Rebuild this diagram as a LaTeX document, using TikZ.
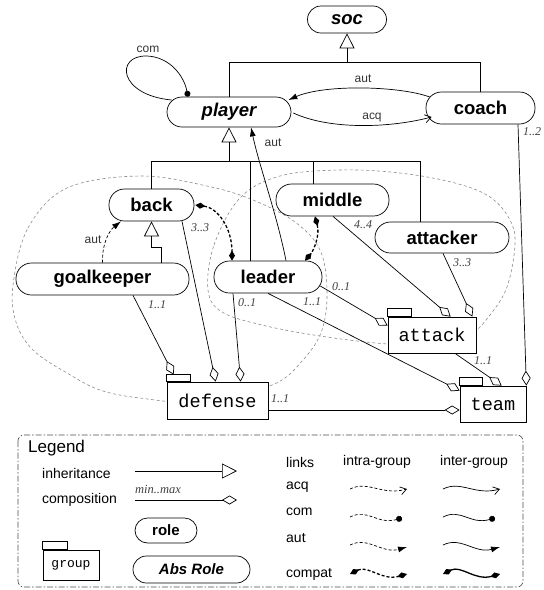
\documentclass[tikz,border=0pt]{standalone}
\usepackage{fontspec}
\setmainfont{Liberation Sans}
\setmonofont{Liberation Mono}
\newfontfamily\multfont{Liberation Serif}
\usetikzlibrary{arrows.meta,calc}
\newcommand\fsz[1]{\fontsize{#1}{#1}\selectfont}
\tikzset{
  role/.style={draw, fill=white, rounded corners=15.5pt, inner sep=0pt, minimum height=32pt,
               line width=0.7pt, font=\fsz{18.5}\bfseries},
  absrole/.style={role, font=\fsz{18.5}\bfseries\itshape},
  grp/.style={draw, fill=white, inner sep=0pt, line width=0.7pt, font=\fsz{18.6}\ttfamily},
  lnk/.style={line width=0.7pt},
  inh/.style={lnk, -{Triangle[open,length=15pt,width=15pt]}},
  comp/.style={lnk, -{Diamond[open,length=15pt,width=9pt]}},
  mult/.style={font=\fsz{12}\multfont\itshape, text=black!75, inner sep=0pt},
  lbl/.style={font=\fsz{12}, inner sep=0pt, text=black!80},
  intra/.style={dash pattern=on 3pt off 2pt},
  autl/.style={lnk, -{Latex[length=9pt,width=6pt]}},
  acql/.style={lnk, -{Straight Barb[length=6pt,width=8pt]}},
  coml/.style={lnk, -{Circle[length=6pt]}},
  compatl/.style={line width=1.3pt, {Diamond[length=10pt,width=6pt]}-{Diamond[length=10pt,width=6pt]}},
  groupzone/.style={draw=black!45, dash pattern=on 3pt off 2.5pt, line width=0.6pt},
  legtext/.style={font=\fsz{14}, anchor=west, inner sep=0pt},
  wavy/.style={to path={.. controls ($(\tikztostart)+(18,-9)$) and ($(\tikztotarget)+(-25,7)$) .. (\tikztotarget)}},
}
\begin{document}
\begin{tikzpicture}[x=1pt,y=-1pt]
\useasboundingbox (0,0) rectangle (544,590);

% group zones (behind everything)
\draw[groupzone] plot[smooth cycle, tension=0.6] coordinates {
  (13,285) (28,228) (67,188) (140,176) (207,186) (253,200) (295,222) (320,250)
  (327,290) (322,330) (303,360) (272,385) (200,402) (140,398) (100,390) (67,373) (33,350) (16,322)};
\draw[groupzone] plot[smooth cycle, tension=0.6] coordinates {
  (208,290) (214,245) (240,198) (280,176) (340,170) (400,173) (455,183) (490,197)
  (510,220) (515,245) (507,287) (490,315) (470,335) (440,344) (388,344) (320,336) (262,325) (222,312)};

% roles
\node[absrole, minimum width=79pt, minimum height=27pt, rounded corners=13.5pt] (soc) at (347,19.5) {soc};
\node[absrole, minimum width=124pt, minimum height=30pt, rounded corners=15pt] (player) at (229,112) {player};
\node[role, minimum width=109pt] (coach) at (480.5,108) {coach};
\node[role, minimum width=85pt] (back) at (151.5,205) {back};
\node[role, minimum width=173pt] (goalkeeper) at (102.5,279) {goalkeeper};
\node[role, minimum width=108pt] (leader) at (268,277) {leader};
\node[role, minimum width=113pt] (middle) at (332.5,200) {middle};
\node[role, minimum width=134pt, minimum height=31pt] (attacker) at (442,237.5) {attacker};

% groups
\node[grp, minimum width=101pt, minimum height=37pt] (defense) at (217.5,400.5) {defense};
\draw[lnk, fill=white] (defense.north west) rectangle ++(24,-7);
\node[grp, minimum width=88pt, minimum height=36pt] (attack) at (432,335) {attack};
\draw[lnk, fill=white] (attack.north west) rectangle ++(24,-8);
\node[grp, minimum width=66pt, minimum height=36pt] (team) at (493,404) {team};
\draw[lnk, fill=white] (team.north west) rectangle ++(23,-8);

% inheritance
\coordinate (jsoc) at (347,62);
\draw[lnk] (player.north) |- (jsoc);
\draw[lnk] (coach.north) |- (jsoc);
\draw[inh] (jsoc) -- (soc.south);
\coordinate (jplayer) at (229,161);
\coordinate (ldtop) at ($(leader.north)+(-18,0)$);
\coordinate (mdtop) at ($(middle.north)+(-19.5,0)$);
\coordinate (attop) at ($(attacker.north)+(-22,0)$);
\draw[lnk] (back.north) |- (attop |- jplayer) -- (attop);
\draw[lnk] (ldtop) -- (ldtop |- jplayer);
\draw[lnk] (mdtop) -- (mdtop |- jplayer);
\draw[inh] (jplayer) -- (player.south);
\coordinate (gktop) at ($(goalkeeper.north)+(58.5,0)$);
\draw[inh] (gktop) -- ++(0,-15) -| (back.south);

% links between roles
\draw[autl] ($(coach.west)+(4,-11)$) .. controls (400,86) and (325,84) .. ($(player.east)+(-3,-12)$);
\node[lbl] (autcp) at (363,79) {aut};
\draw[acql] ($(player.east)+(2,1)$) .. controls (330,130) and (390,128) .. ($(coach.west)+(6,9)$);
\node[lbl] (acqpc) at (372,118) {acq};
\draw[coml] ($(player.west)+(5,-12)$) .. controls (118,95) and (115,55) .. (147,56)
  .. controls (170,57) and (184,76) .. ($(player.north)+(-41,0)$);
\node[lbl] (compp) at (148,49) {com};
\draw[autl] ($(leader.north)+(18,0)$) .. controls (277,215) and (259,165) .. ($(player.south)+(22,0)$);
\node[lbl] (autlp) at (273,143) {aut};
\draw[autl, intra] (goalkeeper.north) .. controls (102,242) and (110,230) .. ($(back.south)+(-30.5,0)$);
\node[lbl] (autgb) at (93,240) {aut};
\draw[compatl, intra] ($(back.east)+(1,0)$) .. controls (218,208) and (232,228) .. ($(leader.north)+(-36,0)$);
\draw[compatl, intra] ($(middle.south)+(-17.5,0)$) .. controls (320,235) and (314,250) .. ($(leader.north)+(37,0)$);

% compositions
\draw[comp] ($(goalkeeper.south)+(30.5,0)$) -- ($(defense.north west)+(7,-7)$);
\draw[comp] ($(back.south)+(30.5,0)$) -- ($(defense.north west)+(49,0)$);
\draw[comp] ($(leader.south)+(-35,0)$) -- ($(defense.north west)+(74,0)$);
\draw[comp] ($(leader.east)+(-2,9)$) -- ($(attack.north west)+(0,9)$);
\draw[comp] (leader.south) -- ($(team.north west)+(0,5)$);
\draw[comp] ($(middle.south)+(0.5,0)$) -- ($(attack.north west)+(63,0)$);
\draw[comp] ($(attacker.south)+(1,0)$) -- ($(attack.north east)+(-4,0)$);
\draw[comp] ($(attack.south)+(23,0)$) -- ($(team.north west)+(42,0)$);
\draw[comp] ($(coach.south)+(37.5,0)$) -- (team.north east);
\draw[comp] ($(defense.east)+(0,9.5)$) -- ($(team.west)+(0,6)$);

% cardinalities
\node[mult] (mgd) at (157,305) {1..1};
\node[mult] (mbd) at (200,228) {3..3};
\node[mult] (mld) at (247,303) {0..1};
\node[mult] (mla) at (341,287) {0..1};
\node[mult] (mlt) at (312,302) {1..1};
\node[mult] (mma) at (363,225) {4..4};
\node[mult] (maa) at (462,263) {3..3};
\node[mult] (mat) at (483,361) {1..1};
\node[mult] (mct) at (532,132) {1..2};
\node[mult] (mdt) at (280,399) {1..1};

% legend
\draw[black!70, line width=0.6pt, dash pattern=on 6pt off 2pt on 1.5pt off 2pt, rounded corners=6pt]
  (18,435) rectangle (523,587);
\node[legtext, font=\fsz{17}] (lgtitle) at (28,448) {Legend};
\node[legtext] (lginh) at (42,473) {inheritance};
\node[legtext] (lgcomp) at (42,500) {composition};
\coordinate (inhA) at (135,471);
\coordinate (inhB) at (237,471);
\draw[inh] (inhA) -- (inhB);
\node[mult, font=\fsz{12.5}\multfont\itshape] (lgmm) at (158,489) {min..max};
\coordinate (cmpA) at (135,500);
\coordinate (cmpB) at (237,500);
\draw[comp] (cmpA) -- (cmpB);
\node[role, minimum width=62pt, minimum height=25pt, rounded corners=12.5pt, font=\fsz{15}\bfseries] (lgrole) at (166,530.5) {role};
\node[absrole, minimum width=117pt, minimum height=27pt, rounded corners=13.5pt, font=\fsz{15}\bfseries\itshape] (lgabs) at (191.5,569.5) {Abs Role};
\node[grp, minimum width=56pt, minimum height=30pt, font=\fsz{13}\ttfamily] (lggroup) at (71,565) {group};
\draw[lnk] (lggroup.north west) rectangle ++(25,-8);

\node[legtext] (lglinks) at (286,462) {links};
\node[font=\fsz{14}, inner sep=0pt] (lgintra) at (377,462) {intra-group};
\node[font=\fsz{14}, inner sep=0pt] (lginter) at (474,462) {inter-group};
\node[legtext] (lgacq) at (286,487) {acq};
\node[legtext] (lgcom) at (286,512) {com};
\node[legtext] (lgaut) at (286,538) {aut};
\node[legtext] (lgcompat) at (286,574) {compat};

\coordinate (aqA) at (350,489); \coordinate (aqB) at (407,489);
\coordinate (aqC) at (443,489); \coordinate (aqD) at (500,489);
\coordinate (cmA) at (350,517); \coordinate (cmB) at (402,518);
\coordinate (cmC) at (443,517); \coordinate (cmD) at (495,518);
\coordinate (auA) at (350,545); \coordinate (auB) at (407,547);
\coordinate (auC) at (443,545); \coordinate (auD) at (500,547);
\coordinate (cpA) at (350,574); \coordinate (cpB) at (407,574);
\coordinate (cpC) at (443,574); \coordinate (cpD) at (500,574);
\draw[acql, intra] (aqA) to[wavy] (aqB);
\draw[acql] (aqC) to[wavy] (aqD);
\draw[coml, intra] (cmA) to[wavy] (cmB);
\draw[coml] (cmC) to[wavy] (cmD);
\draw[autl, intra] (auA) to[wavy] (auB);
\draw[autl] (auC) to[wavy] (auD);
\draw[compatl, intra] (cpA) to[wavy] (cpB);
\draw[compatl] (cpC) to[wavy] (cpD);
\end{tikzpicture}
\end{document}
